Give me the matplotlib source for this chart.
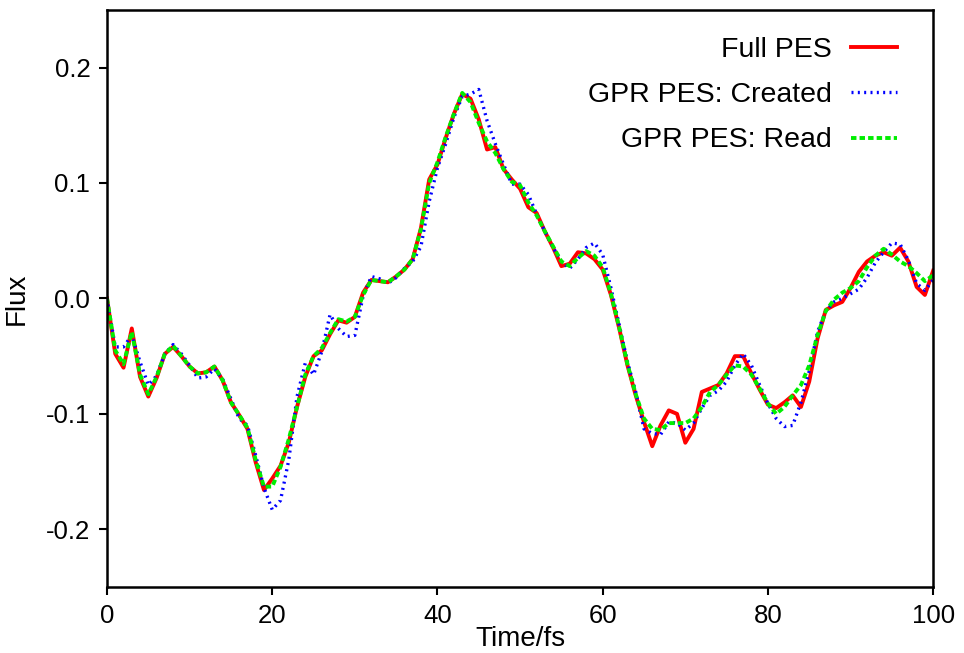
import matplotlib
matplotlib.use("Agg")
import matplotlib.pyplot as plt

plt.rcParams["font.family"] = ["Liberation Sans", "DejaVu Sans"]
plt.rcParams["axes.unicode_minus"] = False

# time axis in fs, one sample per fs
time_fs = list(range(0, 101))

full_pes = [
    0.000, -0.048, -0.060, -0.026, -0.068, -0.085, -0.069, -0.048, -0.042, -0.050,
    -0.059, -0.065, -0.064, -0.059, -0.071, -0.090, -0.101, -0.113, -0.142, -0.166,
    -0.156, -0.145, -0.125, -0.094, -0.068, -0.050, -0.045, -0.031, -0.019, -0.021,
    -0.016, 0.005, 0.016, 0.015, 0.014, 0.019, 0.025, 0.034, 0.061, 0.103,
    0.116, 0.139, 0.160, 0.177, 0.173, 0.155, 0.129, 0.131, 0.112, 0.103,
    0.095, 0.079, 0.074, 0.058, 0.044, 0.028, 0.030, 0.040, 0.039, 0.034,
    0.025, 0.003, -0.026, -0.058, -0.084, -0.107, -0.128, -0.110, -0.097, -0.100,
    -0.125, -0.113, -0.081, -0.078, -0.075, -0.065, -0.050, -0.050, -0.065, -0.079,
    -0.092, -0.095, -0.090, -0.084, -0.094, -0.072, -0.035, -0.010, -0.006, -0.003,
    0.009, 0.023, 0.032, 0.037, 0.040, 0.037, 0.044, 0.032, 0.010, 0.003,
    0.024,
]

gpr_created = [
    0.000, -0.042, -0.042, -0.032, -0.055, -0.075, -0.067, -0.048, -0.040, -0.048,
    -0.058, -0.069, -0.068, -0.061, -0.070, -0.087, -0.104, -0.110, -0.136, -0.164,
    -0.183, -0.175, -0.140, -0.085, -0.056, -0.066, -0.046, -0.014, -0.026, -0.033,
    -0.032, 0.002, 0.019, 0.017, 0.013, 0.018, 0.026, 0.032, 0.045, 0.084,
    0.113, 0.134, 0.157, 0.175, 0.177, 0.181, 0.154, 0.134, 0.116, 0.099,
    0.099, 0.090, 0.073, 0.058, 0.044, 0.032, 0.026, 0.034, 0.044, 0.048,
    0.038, 0.009, -0.023, -0.055, -0.081, -0.113, -0.117, -0.118, -0.107, -0.108,
    -0.114, -0.108, -0.095, -0.084, -0.080, -0.072, -0.058, -0.048, -0.058, -0.075,
    -0.091, -0.104, -0.111, -0.110, -0.090, -0.063, -0.029, -0.011, -0.003, 0.000,
    0.004, 0.008, 0.018, 0.031, 0.040, 0.048, 0.047, 0.033, 0.013, 0.007,
    0.016,
]

gpr_read = [
    0.000, -0.045, -0.057, -0.029, -0.066, -0.083, -0.068, -0.048, -0.041, -0.050,
    -0.059, -0.065, -0.064, -0.059, -0.071, -0.090, -0.101, -0.112, -0.140, -0.163,
    -0.163, -0.146, -0.122, -0.094, -0.066, -0.050, -0.043, -0.030, -0.018, -0.020,
    -0.016, 0.003, 0.016, 0.015, 0.014, 0.019, 0.025, 0.034, 0.060, 0.100,
    0.118, 0.140, 0.160, 0.178, 0.170, 0.152, 0.136, 0.126, 0.112, 0.101,
    0.098, 0.083, 0.072, 0.058, 0.045, 0.032, 0.028, 0.035, 0.041, 0.037,
    0.027, 0.004, -0.025, -0.057, -0.083, -0.104, -0.113, -0.114, -0.108, -0.108,
    -0.108, -0.104, -0.094, -0.081, -0.075, -0.066, -0.058, -0.059, -0.066, -0.078,
    -0.091, -0.100, -0.094, -0.084, -0.075, -0.058, -0.032, -0.011, -0.001, 0.005,
    0.009, 0.015, 0.027, 0.037, 0.043, 0.038, 0.032, 0.028, 0.022, 0.015,
    0.020,
]

labels = ["Full PES", "GPR PES: Created", "GPR PES: Read"]

fig = plt.figure(figsize=(9.64, 6.53), dpi=100)
ax = fig.add_axes([0.111, 0.101, 0.857, 0.884])

ax.plot(time_fs, full_pes, color="#ff0000", lw=2.8, label=labels[0])
ax.plot(time_fs, gpr_created, color="#0000ff", lw=2.4, linestyle=(0, (0.6, 1.3)),
        label=labels[1])
ax.plot(time_fs, gpr_read, color="#00ee00", lw=2.8, linestyle=(0, (1.4, 0.8)),
        label=labels[2])

ax.set_xlim(0, 100)
ax.set_ylim(-0.25, 0.25)
ax.set_xticks([0, 20, 40, 60, 80, 100])
ax.set_yticks([-0.2, -0.1, 0.0, 0.1, 0.2])
ax.set_yticklabels(["-0.2", "-0.1", "0.0", "0.1", "0.2"])

ax.tick_params(direction="out", length=6, width=1.5, labelsize=18.5, pad=6,
               top=False, right=False)
for sp in ax.spines.values():
    sp.set_linewidth(1.8)

ax.set_xlabel("Time/fs", fontsize=20, labelpad=-1)
ax.set_ylabel("Flux", fontsize=20, labelpad=12)

leg = ax.legend(loc="upper right", bbox_to_anchor=(0.970, 0.973),
                markerfirst=False, frameon=False, fontsize=20.5,
                handlelength=1.6, handletextpad=0.7, labelspacing=0.68,
                borderaxespad=0)

fig.savefig("out.png", dpi=100)
